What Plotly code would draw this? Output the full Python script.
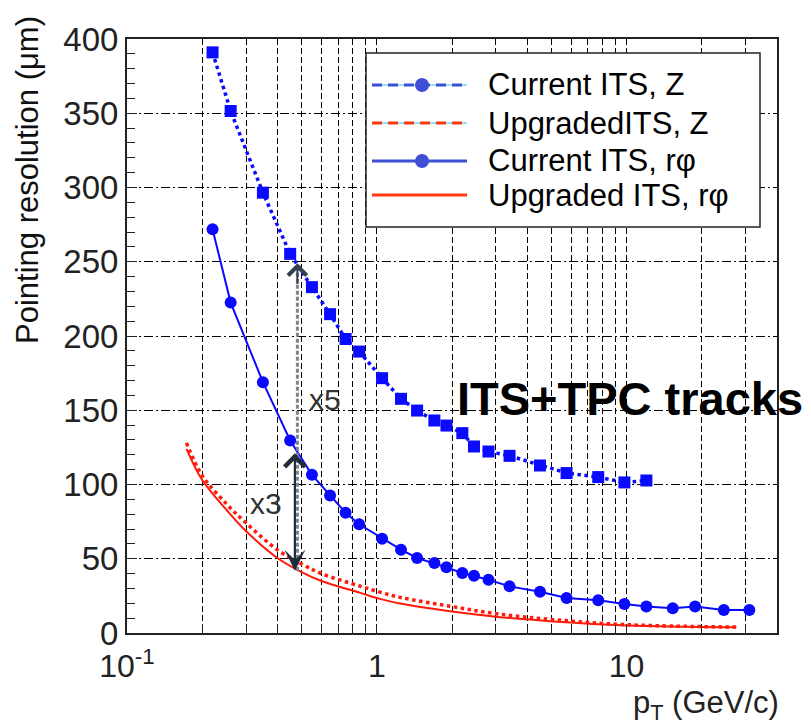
import math
import plotly.graph_objects as go

# --- data -------------------------------------------------------------
pt_current = [0.22, 0.26, 0.35, 0.45, 0.55, 0.65, 0.75, 0.85, 1.05, 1.25, 1.45,
              1.7, 1.9, 2.2, 2.45, 2.8, 3.4, 4.5, 5.75, 7.7, 9.8, 12.0]
res_current_z = [391, 351.5, 296.5, 255.3, 232.9, 214.7, 198, 189.5, 171.6, 157.7, 149.8,
                 143.1, 139.7, 134.6, 125.6, 122.2, 119.3, 112.8, 107.7, 105, 101.4, 102.7]

pt_current_rphi = [0.22, 0.26, 0.35, 0.45, 0.55, 0.65, 0.75, 0.85, 1.05, 1.25, 1.45,
                   1.7, 1.9, 2.2, 2.45, 2.8, 3.4, 4.5, 5.75, 7.7, 9.8, 12.0,
                   15.3, 18.8, 24.5, 31.0]
res_current_rphi = [271.9, 222.5, 168.9, 129.6, 106.5, 92.6, 81.0, 73.2, 63.5, 56.1, 50.5,
                    47.1, 44.2, 40.4, 38.6, 35.9, 31.4, 27.8, 23.6, 22.0, 19.5, 17.9,
                    16.6, 17.9, 15.5, 15.5]

pt_upgraded = [0.173, 0.2, 0.25, 0.3, 0.4, 0.5, 0.6, 0.86, 1.03, 1.24, 2.0, 3.0, 5.1, 10.0, 27.5]
res_upgraded_rphi = [124, 103, 83, 68.5, 50.5, 41, 35, 27, 23, 19.8, 14.5, 11, 7.8, 5.1, 3.8]
res_upgraded_z = [128, 106, 87, 74, 56, 46.5, 40, 31.5, 27.5, 24, 17.8, 13, 9, 5.6, 4.0]

# improvement markers: (pT, top, bottom)
x5_arrow = (0.481, 249, 42)
x3_arrow = (0.47, 122, 42)

x_ticks = [0.1, 0.2, 0.3, 0.4, 0.5, 0.6, 0.7, 0.8, 0.9,
           1, 2, 3, 4, 5, 6, 7, 8, 9, 10, 20, 30, 40]
x_tick_text = {0.1: "10<sup>-1</sup>", 1: "1", 10: "10"}
y_ticks = [0, 50, 100, 150, 200, 250, 300, 350, 400]

legend_labels = ["Current ITS, Z", "UpgradedITS, Z", "Current ITS, rφ", "Upgraded ITS, rφ"]

# --- styling ----------------------------------------------------------
FONT = "Liberation Sans, Arial, Helvetica, sans-serif"
BLUE = "#0a0aff"
RED = "#ff1a0a"
LEG_BLUE = "#3e4fd6"
LEG_RED = "#ff3a10"

W, H = 811, 726
L, R, T, B = 127, 777, 39, 633

def px(x):
    return (x - L) / (R - L)

def py(y):
    return (B - y) / (B - T)

fig = go.Figure()

fig.add_trace(go.Scatter(
    x=pt_upgraded, y=res_upgraded_z, mode="lines",
    line=dict(color=RED, width=3.5, dash="dot", shape="spline"), showlegend=False))
fig.add_trace(go.Scatter(
    x=pt_upgraded, y=res_upgraded_rphi, mode="lines",
    line=dict(color=RED, width=2, shape="spline"), showlegend=False))
fig.add_trace(go.Scatter(
    x=pt_current, y=res_current_z, mode="lines+markers",
    line=dict(color=BLUE, width=3.5, dash="dot"),
    marker=dict(symbol="square", size=12, color=BLUE), showlegend=False))
fig.add_trace(go.Scatter(
    x=pt_current_rphi, y=res_current_rphi, mode="lines+markers",
    line=dict(color=BLUE, width=2),
    marker=dict(symbol="circle", size=12, color=BLUE), showlegend=False))

# x5 arrow shaft (dotted grey)
fig.add_trace(go.Scatter(
    x=[x5_arrow[0], x5_arrow[0]], y=[x5_arrow[2], x5_arrow[1] - 3], mode="lines",
    line=dict(color="#7d848d", width=3, dash="4px,2px"), showlegend=False, hoverinfo="skip"))

lx5 = math.log10(x5_arrow[0])
lx3 = math.log10(x3_arrow[0])

shapes = []
annotations = [
    # x5 arrow head (top)
    dict(x=lx5, y=x5_arrow[1], ax=lx5, ay=x5_arrow[1] - 15, xref="x", yref="y", axref="x", ayref="y",
         text="", showarrow=True, arrowhead=4, arrowsize=1.8, arrowwidth=2, arrowcolor="#34404c"),
    # x3 double arrow
    dict(x=lx3, y=x3_arrow[2], ax=lx3, ay=x3_arrow[1], xref="x", yref="y", axref="x", ayref="y",
         text="", showarrow=True, arrowside="end+start", arrowhead=3, startarrowhead=4,
         arrowsize=1.6, startarrowsize=1.8, arrowwidth=2.2, arrowcolor="#1f2c3a"),
    dict(x=math.log10(0.62), y=157, xref="x", yref="y", text="x5", showarrow=False,
         font=dict(family=FONT, size=30, color="#333333")),
    dict(x=math.log10(0.36), y=87.5, xref="x", yref="y", text="x3", showarrow=False,
         font=dict(family=FONT, size=30, color="#333333")),
    dict(x=px(455), y=py(398), xref="paper", yref="paper", xanchor="left", yanchor="middle",
         text="<b>ITS+TPC tracks</b>", showarrow=False,
         font=dict(family=FONT, size=47, color="#000000")),
    # axis titles
    dict(x=px(28), y=py(180), xref="paper", yref="paper", xanchor="center", yanchor="middle",
         text="Pointing resolution (μm)", textangle=-90, showarrow=False,
         font=dict(family=FONT, size=31, color="#111111")),
    dict(x=px(780), y=py(705), xref="paper", yref="paper", xanchor="right", yanchor="middle",
         text="p<sub>T</sub> (GeV/c)", showarrow=False, borderpad=0,
         font=dict(family=FONT, size=31, color="#222222")),
]

# --- legend box ---------------------------------------------------------
shapes.append(dict(type="rect", xref="paper", yref="paper",
                   x0=px(366), x1=px(760), y0=py(227), y1=py(53),
                   line=dict(color="#222222", width=1.5), fillcolor="white", layer="above"))

rows = [85, 123, 161, 195]
lx0, lx1, lmx = 372, 467, 422
styles = [
    (LEG_BLUE, "10px,6px", True, True),
    (LEG_RED, "10px,6px", True, False),
    (LEG_BLUE, "solid", False, True),
    (LEG_RED, "solid", False, False),
]
for row, (col, dash, thin, marker), label in zip(rows, styles, legend_labels):
    if thin:
        shapes.append(dict(type="line", xref="paper", yref="paper",
                           x0=px(lx0), x1=px(lx1), y0=py(row), y1=py(row),
                           line=dict(color="#29c4f2", width=1), layer="above"))
    shapes.append(dict(type="line", xref="paper", yref="paper",
                       x0=px(lx0), x1=px(lx1), y0=py(row), y1=py(row),
                       line=dict(color=col, width=3, dash=dash), layer="above"))
    if marker:
        shapes.append(dict(type="circle", xref="paper", yref="paper",
                           x0=px(lmx - 7), x1=px(lmx + 7), y0=py(row + 7), y1=py(row - 7),
                           line=dict(color=col, width=0), fillcolor=col, layer="above"))
    annotations.append(dict(x=px(486), y=py(row), xref="paper", yref="paper",
                            xanchor="left", yanchor="middle", text=label, showarrow=False,
                            font=dict(family=FONT, size=31, color="#000000")))

fig.update_layout(
    width=W, height=H,
    margin=dict(l=L, r=W - R, t=T, b=H - B, pad=0),
    paper_bgcolor="white", plot_bgcolor="white",
    showlegend=False,
    shapes=shapes, annotations=annotations,
    font=dict(family=FONT, color="#222222"),
)

fig.update_xaxes(
    type="log", range=[-1, math.log10(40)],
    tickmode="array", tickvals=x_ticks,
    ticktext=[x_tick_text.get(v, "") for v in x_ticks],
    tickfont=dict(family=FONT, size=32, color="#222222"),
    ticks="inside", ticklen=8, tickcolor="#222222",
    ticklabelstandoff=4,
    showgrid=True, gridcolor="#000000", gridwidth=1.2, griddash="6px,3px",
    showline=True, linecolor="#222222", linewidth=2, mirror=True,
    zeroline=False,
)
fig.update_yaxes(
    range=[0, 400],
    tickmode="array", tickvals=y_ticks,
    tickfont=dict(family=FONT, size=33, color="#222222"),
    ticks="inside", ticklen=10, tickcolor="#222222",
    ticklabelstandoff=0,
    minor=dict(dtick=10, ticks="inside", ticklen=8, tickcolor="#222222", showgrid=False),
    showgrid=True, gridcolor="#000000", gridwidth=1.2, griddash="9px,3px,2px,3px",
    showline=True, linecolor="#222222", linewidth=2, mirror=True,
    zeroline=False,
)

fig.write_html("out.html")
